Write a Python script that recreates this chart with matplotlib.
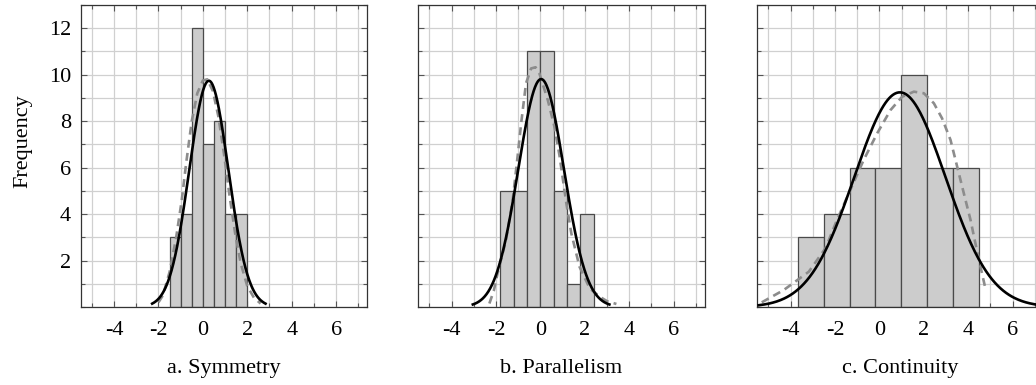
import numpy as np
import matplotlib
matplotlib.use("Agg")
import matplotlib.pyplot as plt
from matplotlib.ticker import MultipleLocator, FixedLocator

plt.rcParams['font.family'] = ['Liberation Serif', 'DejaVu Serif']

# ---------------- data ----------------
titles = ["a. Symmetry", "b. Parallelism", "c. Continuity"]

# histogram bins (left edge of first bin, bin width) and counts
a_start, a_width = -1.5, 0.5
a_counts = [3, 4, 12, 7, 8, 4, 4]
b_start, b_width = -1.8, 0.6
b_counts = [5, 5, 11, 11, 5, 1, 4]
c_start, c_width = -3.66, 1.16
c_counts = [3, 4, 6, 6, 10, 6, 6]

# normal fit (mean, sd, peak height, half-range in sd)
a_fit = (0.27, 0.88, 9.74, 2.9)
b_fit = (0.03, 1.025, 9.81, 3.0)
c_fit = (0.92, 2.05, 9.24, 3.1)

# dashed density curves
a_dx = [-2.0, -1.8, -1.5, -1.2, -0.95, -0.75, -0.5, -0.25, 0.0, 0.2, 0.45, 0.7, 0.95, 1.2, 1.45, 1.7, 2.0, 2.3, 2.6]
a_dy = [0.2, 0.5, 1.5, 3.0, 4.6, 6.2, 8.0, 9.2, 9.75, 9.8, 9.3, 8.2, 6.6, 4.8, 3.2, 1.9, 0.9, 0.4, 0.15]
b_dx = [-2.30, -2.10, -1.93, -1.55, -1.25, -1.03, -0.87, -0.65, -0.42, -0.22, -0.05, 0.33, 0.63, 0.86, 1.16, 1.39, 1.76, 2.22, 2.67, 3.0, 3.42]
b_dy = [0.15, 0.7, 1.45, 2.88, 4.6, 6.47, 7.9, 9.63, 10.27, 10.32, 10.06, 8.91, 7.76, 6.5, 4.5, 3.17, 1.73, 0.8, 0.44, 0.25, 0.13]
c_dx = [-5.3, -4.31, -3.18, -2.43, -1.91, -1.31, -0.71, -0.10, 0.50, 1.02, 1.55, 2.0, 2.45, 2.82, 3.2, 3.5, 3.8, 4.1, 4.32, 4.55, 4.77]
c_dy = [0.2, 0.73, 1.52, 2.53, 3.75, 5.04, 6.33, 7.48, 8.48, 9.05, 9.27, 9.2, 8.77, 8.12, 7.19, 6.04, 4.89, 3.75, 2.74, 1.73, 0.8]

x_ticks = [-4, -2, 0, 2, 4, 6]
x_ticklabels = ["-4", "-2", "0", "2", "4", "6"]
y_ticks = [2, 4, 6, 8, 10, 12]
y_label = "Frequency"

panels = [
    (a_start, a_width, a_counts, a_fit, a_dx, a_dy),
    (b_start, b_width, b_counts, b_fit, b_dx, b_dy),
    (c_start, c_width, c_counts, c_fit, c_dx, c_dy),
]

# ---------------- figure ----------------
W, H = 1036, 385
fig = plt.figure(figsize=(W / 100, H / 100), dpi=100)

lefts = [80.7, 418.3, 757.3]
ax_w = 286.5
bottom_px, top_px = 307, 5
FS = 16

for i, (start, width, counts, fit, dx, dy) in enumerate(panels):
    ax = fig.add_axes([lefts[i] / W, (H - bottom_px) / H, ax_w / W, (bottom_px - top_px) / H])
    ax.set_xlim(-5.5, 7.4)
    ax.set_ylim(0, 13)
    ax.set_axisbelow(True)
    ax.xaxis.set_major_locator(FixedLocator(x_ticks))
    ax.set_xticklabels(x_ticklabels)
    ax.xaxis.set_minor_locator(MultipleLocator(1))
    ax.yaxis.set_major_locator(FixedLocator(y_ticks))
    ax.yaxis.set_minor_locator(MultipleLocator(1))
    ax.grid(True, which='both', color='#d0d0d0', linewidth=0.9)
    ax.tick_params(which='both', direction='in', top=True, right=True,
                   color='#555555', labelsize=FS, width=0.8)
    ax.tick_params(which='major', length=4.5)
    ax.tick_params(which='minor', length=3)
    ax.tick_params(axis='x', which='major', pad=10)
    ax.tick_params(axis='y', which='major', pad=7)
    if i > 0:
        ax.set_yticklabels([])
    else:
        ax.set_ylabel(y_label, fontsize=FS)
        ax.yaxis.set_label_coords(-0.167, 0.55)
    for s in ax.spines.values():
        s.set_color('#333333')
        s.set_linewidth(0.9)

    lefts_bins = [start + k * width for k in range(len(counts))]
    ax.bar(lefts_bins, counts, width=width, align='edge',
           color='#cccccc', edgecolor='#4a4a4a', linewidth=0.9, zorder=2)

    mu, sd, peak, rng = fit
    xs = np.linspace(mu - rng * sd, mu + rng * sd, 300)
    ax.plot(dx, dy, color='#8c8c8c', linewidth=1.9, dashes=(3, 2), zorder=3)
    ax.plot(xs, peak * np.exp(-0.5 * ((xs - mu) / sd) ** 2), color='black',
            linewidth=1.9, zorder=4)
    ax.set_xlabel(titles[i], fontsize=FS, labelpad=14)

fig.savefig("out.png", dpi=100)
